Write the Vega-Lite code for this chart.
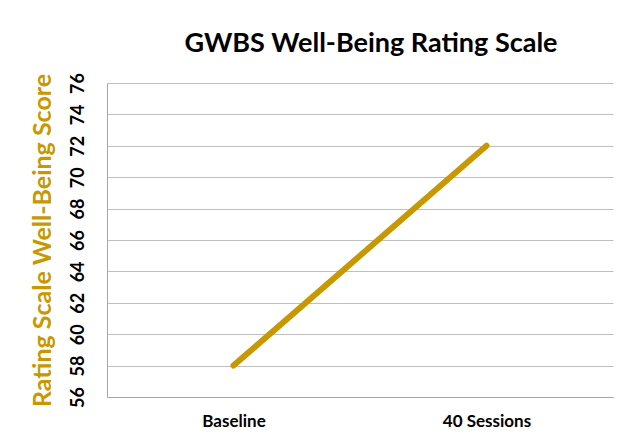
{
  "$schema": "https://vega.github.io/schema/vega-lite/v6.json",
  "width": 506,
  "height": 314,
  "autosize": {"type": "none"},
  "padding": {"left": 107, "top": 83, "right": 11, "bottom": 45},
  "background": "white",
  "config": {
    "font": "Lato",
    "view": {"stroke": null}
  },
  "title": {
    "text": "GWBS Well-Being Rating Scale",
    "font": "Lato",
    "fontSize": 27,
    "fontWeight": "bold",
    "color": "#000000",
    "anchor": "middle",
    "offset": 15,
    "dx": 11
  },
  "data": {
    "values": [
      {"time": "Baseline", "score": 58},
      {"time": "40 Sessions", "score": 72}
    ]
  },
  "mark": {"type": "line", "color": "#C89800", "strokeWidth": 6, "strokeCap": "round"},
  "encoding": {
    "x": {
      "field": "time",
      "type": "nominal",
      "sort": ["Baseline", "40 Sessions"],
      "scale": {"type": "point", "padding": 0.5},
      "axis": {
        "title": null,
        "labelAngle": 0,
        "labelFont": "Lato",
        "labelFontSize": 17,
        "labelFontWeight": "bold",
        "labelColor": "#000000",
        "labelPadding": 16,
        "ticks": false,
        "grid": false,
        "domainColor": "#a6a6a6",
        "domainWidth": 1
      }
    },
    "y": {
      "field": "score",
      "type": "quantitative",
      "scale": {"domain": [56, 76], "nice": false, "zero": false},
      "axis": {
        "values": [56, 58, 60, 62, 64, 66, 68, 70, 72, 74, 76],
        "title": "Rating Scale Well-Being Score",
        "titleFont": "Lato",
        "titleFontSize": 25,
        "titleFontWeight": "bold",
        "titleColor": "#C89800",
        "titlePadding": 14,
        "labelAngle": -90,
        "labelAlign": "center",
        "labelBaseline": "alphabetic",
        "labelFont": "Lato",
        "labelFontSize": 18,
        "labelFontWeight": "bold",
        "labelColor": "#000000",
        "labelPadding": 24,
        "ticks": false,
        "grid": true,
        "gridColor": "#bfbfbf",
        "gridWidth": 1,
        "domainColor": "#a6a6a6",
        "domainWidth": 1
      }
    }
  }
}
